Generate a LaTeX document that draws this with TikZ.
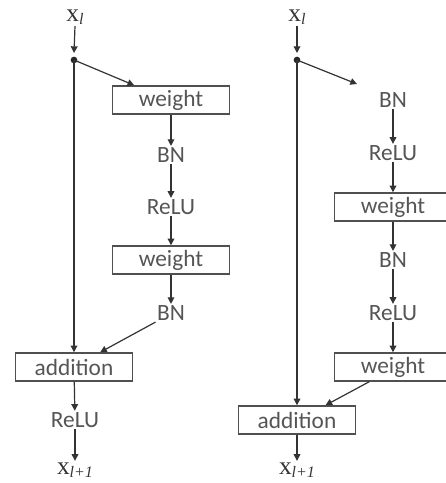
\documentclass[tikz,border=0pt]{standalone}
\usepackage{fontspec}
\setmainfont{Liberation Serif}
\newfontfamily\lblfont{Carlito}
\usetikzlibrary{arrows.meta,calc}

\definecolor{txtgray}{HTML}{555555}
\definecolor{linegray}{HTML}{505050}

\tikzset{
  lbl/.style={font=\lblfont\fontsize{17.5}{20}\selectfont, text=txtgray, inner sep=1pt},
  opbox/.style={lbl, draw=linegray, line width=1.1pt, minimum width=88pt, minimum height=21pt, inner sep=0pt},
  varlbl/.style={font=\fontsize{19}{21}\selectfont, text=black!80, inner sep=1pt},
  flow/.style={draw=black!80, line width=0.9pt, -{Triangle[length=5pt,width=5pt]}},
  jdot/.style={fill=black!85, circle, inner sep=0pt, minimum size=5pt},
}

\newcommand{\xvar}[1]{x\raisebox{-0.3ex}{\fontsize{12}{13}\selectfont\itshape #1}}

\begin{document}
\begin{tikzpicture}[x=0.75pt, y=-0.75pt]
  \useasboundingbox (0,0) rectangle (446,483);
  \clip (0,0) rectangle (446,483);

  % ---- original residual unit ----
  \node[varlbl] (xa) at (75,17) {\xvar{l}};
  \coordinate (ja) at (74,60);
  \coordinate (jta) at (74,53);
  \node[opbox] (wa1) at (171,100) {weight};
  \node[lbl] (bna1) at (171,155) {BN};
  \node[lbl] (rea1) at (171,207) {ReLU};
  \node[opbox] (wa2) at (171,260) {weight};
  \node[lbl] (bna2) at (171,313) {BN};
  \node[opbox] (adda) at (74,367) {addition};
  \node[lbl] (rea2) at (75,420) {ReLU};
  \node[varlbl] (ya) at (75,470) {\xvar{l+1}};

  \draw[flow] (xa.south) -- (jta);
  \node[jdot] at (ja) {};
  \draw[flow] (ja) -- ($(wa1.north west)!0.19!(wa1.north east)$);
  \draw[flow] (ja) -- (adda.north);
  \draw[flow] (wa1) -- (bna1);
  \draw[flow] (bna1) -- (rea1);
  \draw[flow] (rea1) -- (wa2);
  \draw[flow] (wa2) -- (bna2);
  \draw[flow] (bna2.south west) -- ($(adda.north west)!0.72!(adda.north east)$);
  \draw[flow] (adda) -- (rea2);
  \draw[flow] (rea2) -- (ya);

  % ---- pre-activation residual unit ----
  \node[varlbl] (xb) at (297,17) {\xvar{l}};
  \coordinate (jb) at (297,60);
  \coordinate (jtb) at (297,53);
  \node[lbl] (bnb1) at (393,100) {BN};
  \node[lbl] (reb1) at (393,153) {ReLU};
  \node[opbox] (wb1) at (393,207) {weight};
  \node[lbl] (bnb2) at (393,260) {BN};
  \node[lbl] (reb2) at (393,313) {ReLU};
  \node[opbox] (wb2) at (393,367) {weight};
  \node[opbox] (addb) at (297,420) {addition};
  \node[varlbl] (yb) at (297,470) {\xvar{l+1}};

  \draw[flow] (xb.south) -- (jtb);
  \node[jdot] at (jb) {};
  \coordinate (bnin) at (357,84);
  \draw[flow] (jb) -- (bnin);
  \draw[flow] (jb) -- (addb.north);
  \draw[flow] (bnb1) -- (reb1);
  \draw[flow] (reb1) -- (wb1);
  \draw[flow] (wb1) -- (bnb2);
  \draw[flow] (bnb2) -- (reb2);
  \draw[flow] (reb2) -- (wb2);
  \draw[flow] ($(wb2.south west)!0.3!(wb2.south east)$) -- ($(addb.north west)!0.74!(addb.north east)$);
  \draw[flow] (addb) -- (yb);
\end{tikzpicture}
\end{document}
